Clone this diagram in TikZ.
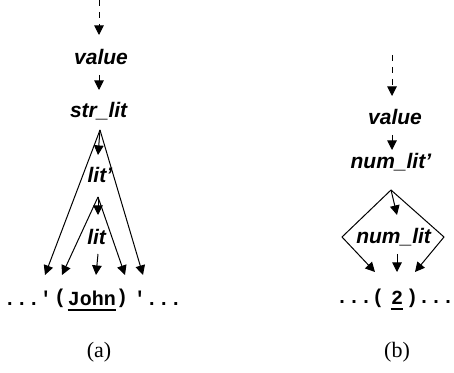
\documentclass[tikz,border=0pt]{standalone}
\usepackage{fontspec}
\setmainfont{Liberation Serif}
\setsansfont{Liberation Sans}
\setmonofont{Liberation Mono}
\usetikzlibrary{arrows.meta}
\newcommand{\nt}[1]{\textsf{\bfseries\itshape #1}}
\newcommand{\tok}[1]{\texttt{\bfseries #1}}
\newcommand{\pr}{\char"27}

\begin{document}
\begin{tikzpicture}[x=0.5pt,y=-0.5pt,
    >={Triangle[length=4.8pt,width=4.8pt]},
    lbl/.style={inner sep=0pt,font=\fontsize{10.5}{12}\selectfont},
    txt/.style={inner sep=0pt,font=\fontsize{10}{12}\selectfont},
    sublbl/.style={inner sep=0pt,font=\fontsize{11}{13}\selectfont},
    arr/.style={->,line width=0.5pt},
    uline/.style={line width=0.9pt}]
  \useasboundingbox (0,0) rectangle (454,373);
  % (a) string literal
  \coordinate (topa) at (99,0);
  \node[lbl] (vala) at (101,57) {\nt{value}};
  \node[lbl] (strlit) at (99,111) {\nt{str\_lit}};
  \node[lbl] (litp) at (100,175) {\nt{lit\pr}};
  \node[lbl] (lit) at (97,237) {\nt{lit}};
  \coordinate (strtop) at (100,130);
  \coordinate (littop) at (98,197);
  \node[txt] (dotsl) at (28,298) {\tok{...\pr}};
  \node[txt] (lpar) at (60,298) {\tok{(}};
  \node[txt] (john) at (92,298) {\tok{John}};
  \node[txt] (rpar) at (122,298) {\tok{)}};
  \node[txt] (dotsr) at (158,298) {\tok{\pr...}};
  \coordinate (ta1) at (45,275);
  \coordinate (ta2) at (62,275);
  \coordinate (ta3) at (96,275);
  \coordinate (ta4) at (125,275);
  \coordinate (ta5) at (143,275);
  \draw[arr,dashed] (topa) -- (99,35);
  \draw[arr] (99,75) -- (99,90);
  \draw[arr] (strtop) -- (98,155);
  \draw[arr] (strtop) -- (ta1);
  \draw[arr] (strtop) -- (ta5);
  \draw[arr] (littop) -- (98,215);
  \draw[arr] (littop) -- (ta2);
  \draw[arr] (littop) -- (ta4);
  \draw[arr] (98,254) -- (ta3);
  \draw[uline] ([yshift=-2pt]john.south west) -- ([yshift=-2pt]john.south east);
  \node[sublbl] (capa) at (99,352) {(a)};
  % (b) number literal
  \coordinate (topb) at (392,55);
  \node[lbl] (valb) at (395,117) {\nt{value}};
  \node[lbl] (numlitp) at (391,162) {\nt{num\_lit\pr}};
  \node[lbl] (numlit) at (394,237) {\nt{num\_lit}};
  \coordinate (numtop) at (391,190);
  \coordinate (dl) at (342,237);
  \coordinate (dr) at (444,237);
  \node[txt] (dotsbl) at (360,298) {\tok{...(}};
  \node[txt] (two) at (397,298) {\tok{2}};
  \node[txt] (dotsbr) at (430,298) {\tok{)...}};
  \coordinate (tb1) at (375,272);
  \coordinate (tb2) at (397,272);
  \coordinate (tb3) at (415,272);
  \draw[arr,dashed] (topb) -- (392,96);
  \draw[arr] (392,135) -- (392,150);
  \draw[arr] (numtop) -- (397,215);
  \draw[arr] (numtop) -- (dl) -- (tb1);
  \draw[arr] (numtop) -- (dr) -- (tb3);
  \draw[arr] (397,254) -- (tb2);
  \draw[uline] ([yshift=-2pt]two.south west) -- ([yshift=-2pt]two.south east);
  \node[sublbl] (capb) at (397,352) {(b)};
\end{tikzpicture}
\end{document}
